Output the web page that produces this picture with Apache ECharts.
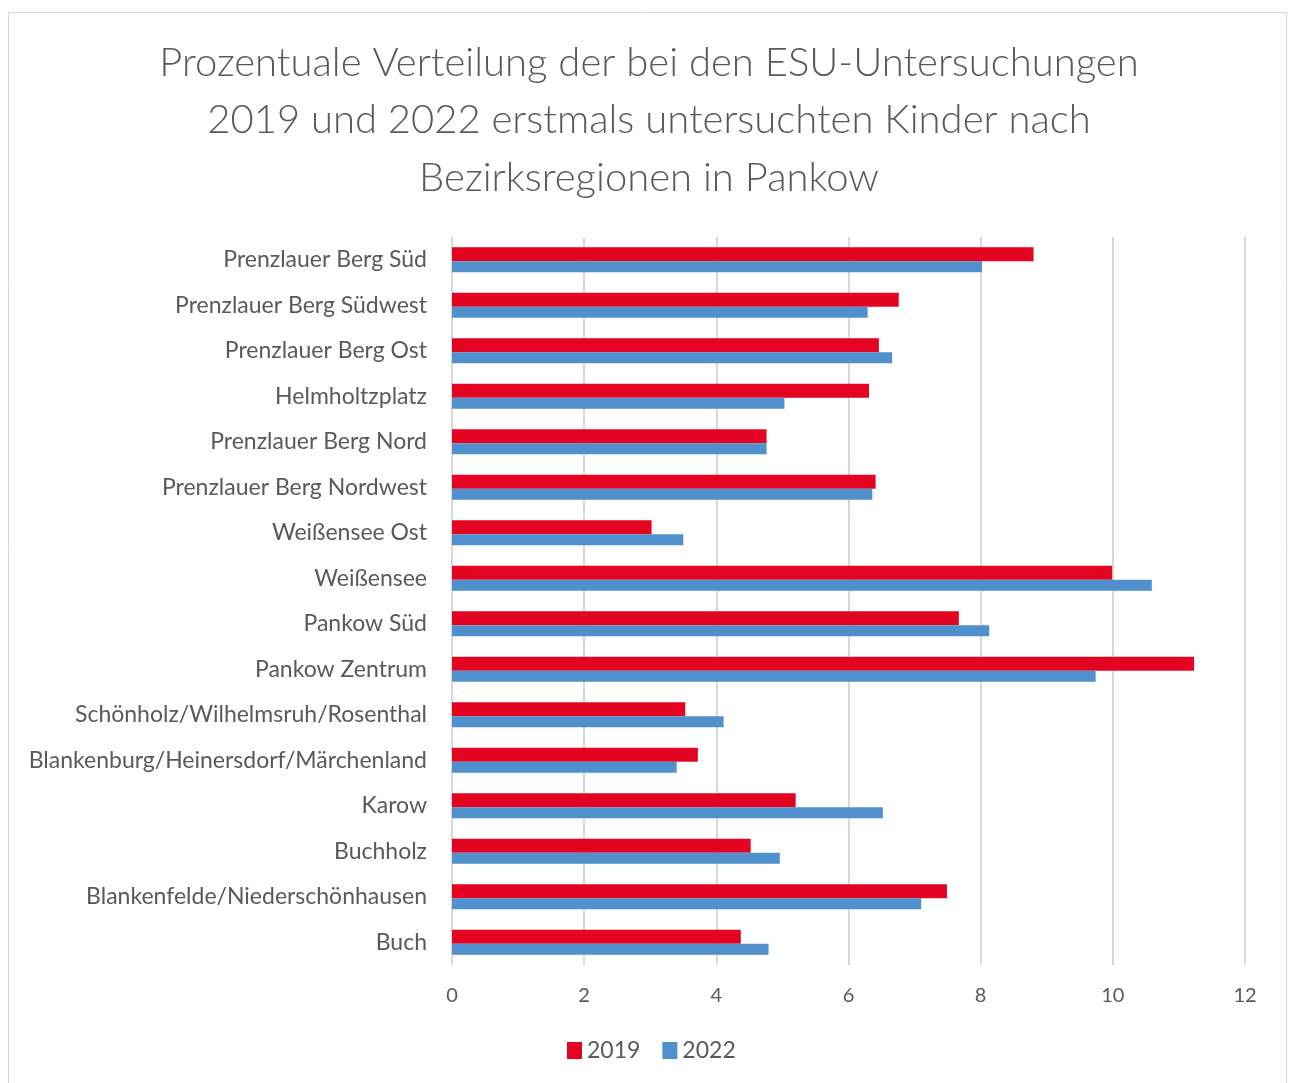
<!DOCTYPE html>
<html>
<head>
<meta charset="utf-8">
<script src="https://cdn.jsdelivr.net/npm/echarts@6/dist/echarts.min.js"></script>
<style>
  html, body { margin: 0; padding: 0; background: #fff; }
  #chart { width: 1292px; height: 1083px; }
</style>
</head>
<body>
<div id="chart"></div>
<script>
// Bezirksregionen, von oben nach unten
const regions = [
    'Prenzlauer Berg Süd',
    'Prenzlauer Berg Südwest',
    'Prenzlauer Berg Ost',
    'Helmholtzplatz',
    'Prenzlauer Berg Nord',
    'Prenzlauer Berg Nordwest',
    'Weißensee Ost',
    'Weißensee',
    'Pankow Süd',
    'Pankow Zentrum',
    'Schönholz/Wilhelmsruh/Rosenthal',
    'Blankenburg/Heinersdorf/Märchenland',
    'Karow',
    'Buchholz',
    'Blankenfelde/Niederschönhausen',
    'Buch'
]
const values2019 = [8.80, 6.76, 6.46, 6.31, 4.76, 6.41, 3.02, 9.99, 7.67, 11.23, 3.53, 3.72, 5.20, 4.52, 7.49, 4.37]
const values2022 = [8.02, 6.29, 6.66, 5.03, 4.76, 6.36, 3.50, 10.59, 8.13, 9.74, 4.11, 3.40, 6.52, 4.96, 7.10, 4.79]
const xTicks = [0, 2, 4, 6, 8, 10, 12]

const textColor = '#595959'
const fontFamily = 'Lato, "Noto Sans", sans-serif'

const myChart = echarts.init(document.querySelector('#chart'))
const option = {
    backgroundColor: '#fff',
    textStyle: { fontFamily: fontFamily },
    graphic: [
        {
            type: 'rect',
            shape: { x: 8.5, y: 12.5, width: 1278, height: 1080 },
            style: { fill: 'none', stroke: '#d9d9d9', lineWidth: 1 },
            silent: true
        }
    ],
    title: {
        text: 'Prozentuale Verteilung der bei den ESU-Untersuchungen\n2019 und 2022 erstmals untersuchten Kinder nach\nBezirksregionen in Pankow',
        left: 644,
        top: 29,
        textAlign: 'center',
        textStyle: {
            fontFamily: fontFamily,
            fontSize: 40,
            fontWeight: 300,
            color: textColor,
            lineHeight: 57.5
        }
    },
    legend: {
        data: ['2019', '2022'],
        left: 562,
        top: 1034,
        icon: 'rect',
        itemWidth: 15,
        itemHeight: 17,
        itemGap: 22,
        textStyle: { fontSize: 23, color: textColor }
    },
    grid: {
        left: 452,
        right: 47,
        top: 237,
        bottom: 118
    },
    xAxis: {
        type: 'value',
        min: xTicks[0],
        max: xTicks[xTicks.length - 1],
        interval: 2,
        axisLine: { show: false },
        axisTick: { show: false },
        axisLabel: { fontSize: 20, color: textColor, margin: 21 },
        splitLine: {
            show: true,
            lineStyle: { color: '#d9d9d9', width: 2 }
        }
    },
    yAxis: {
        type: 'category',
        data: regions,
        inverse: true,
        axisLine: { show: false },
        axisTick: { show: false },
        axisLabel: { fontSize: 23, color: textColor, margin: 25 }
    },
    series: [
        {
            name: '2019',
            type: 'bar',
            data: values2019,
            barWidth: 14,
            barGap: '0%',
            itemStyle: { color: '#e30421' }
        },
        {
            name: '2022',
            type: 'bar',
            data: values2022,
            barWidth: 11,
            itemStyle: { color: '#4f90cd' }
        }
    ]
}
myChart.setOption(option)
</script>
</body>
</html>
